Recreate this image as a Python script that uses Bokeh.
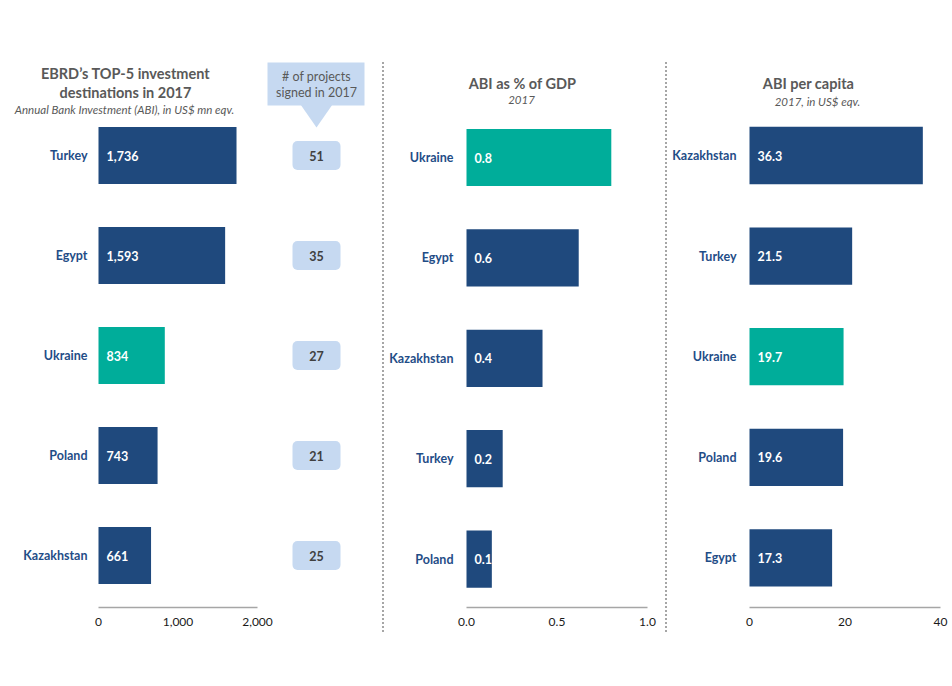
from bokeh.plotting import figure
from bokeh.layouts import row
from bokeh.models import Range1d, FixedTicker, NumeralTickFormatter, ColumnDataSource, Div
from bokeh.core.properties import value
from bokeh.embed import file_html
from bokeh.resources import INLINE

# ---------------- data ----------------
abi_countries = ["Turkey", "Egypt", "Ukraine", "Poland", "Kazakhstan"]
abi_values = [1736, 1593, 834, 743, 661]
projects_signed = [51, 35, 27, 21, 25]

gdp_countries = ["Ukraine", "Egypt", "Kazakhstan", "Turkey", "Poland"]
gdp_values = [0.80, 0.62, 0.42, 0.20, 0.14]

cap_countries = ["Kazakhstan", "Turkey", "Ukraine", "Poland", "Egypt"]
cap_values = [36.3, 21.5, 19.7, 19.6, 17.3]

abi_ticks = [0, 1000, 2000]
gdp_ticks = [0.0, 0.5, 1.0]
cap_ticks = [0, 20, 40]

highlight = "Ukraine"

# ---------------- style ----------------
FONT = value("Lato")
NAVY = "#1f497d"
LABEL_C = "#1f4d87"
TEAL = "#00ad9a"
BOX = "#c6d9f1"
TITLE_C = "#595959"
H = 686
AXIS_PX = 607


def make_panel(countries, values, labels, ticks, fmt, fig_left, fig_width,
               zero_px, max_px, first_row_px, row_px, gap):
    axis_px = AXIS_PX
    u = (ticks[-1] - ticks[0]) / (max_px - zero_px)
    xr = Range1d(-(zero_px - fig_left) * u, (fig_left + fig_width - zero_px) * u)
    yr = Range1d((axis_px - first_row_px) / row_px, -first_row_px / row_px)
    p = figure(width=fig_width, height=H, x_range=xr, y_range=yr,
               output_backend="svg", toolbar_location=None,
               y_axis_location=None, min_border=0,
               min_border_bottom=H - axis_px)
    p.extra_x_ranges = {"px": Range1d(fig_left, fig_left + fig_width)}
    p.extra_y_ranges = {"py": Range1d(axis_px, 0)}
    p.xgrid.visible = False
    p.ygrid.visible = False
    p.outline_line_color = None
    p.background_fill_color = "white"
    p.border_fill_color = "white"

    ax = p.xaxis[0]
    ax.ticker = FixedTicker(ticks=ticks)
    ax.bounds = (ticks[0], ticks[-1])
    ax.formatter = NumeralTickFormatter(format=fmt)
    ax.axis_line_color = "#a6a6a6"
    ax.axis_line_width = 1.5
    ax.major_tick_line_color = None
    ax.minor_tick_line_color = None
    ax.major_tick_out = 0
    ax.major_label_standoff = 10
    ax.major_label_text_font = "Lato"
    ax.major_label_text_font_size = "12px"
    ax.major_label_text_color = "#1a1a1a"

    src = ColumnDataSource(dict(
        y=list(range(len(countries))),
        v=values,
        name=countries,
        lab=labels,
        c=[TEAL if c == highlight else NAVY for c in countries],
    ))
    p.hbar(y="y", left=0, right="v", height=0.57, fill_color="c",
           line_color=None, source=src)
    p.text(x=0, y="y", text="lab", x_offset=8, text_align="left",
           text_baseline="middle", text_color="white", text_font=FONT,
           text_font_style="bold", text_font_size="12.5px", source=src)
    p.text(x=0, y="y", text="name", x_offset=-gap, text_align="right",
           text_baseline="middle", text_color=LABEL_C, text_font=FONT,
           text_font_style="bold", text_font_size="12.5px", source=src)
    return p, src


def titles(p, xs, ys, texts, size, style):
    p.text(x=xs, y=ys, text=texts, x_range_name="px", y_range_name="py",
           text_align="center", text_baseline="middle", text_color=TITLE_C,
           text_font=FONT, text_font_style=style, text_font_size=size)


# ---------------- panel 1: ABI ----------------
p1, src1 = make_panel(abi_countries, abi_values, [f"{v:,.0f}" for v in abi_values],
                      abi_ticks, "0,0", 0, 380, 98, 257, 155, 100, 11)
src1.data["proj"] = [str(n) for n in projects_signed]
titles(p1, [125, 125], [73, 92], ["EBRD\u2019s TOP-5 investment", "destinations in 2017"],
       "14.5px", "bold")
titles(p1, [124], [109], ["Annual Bank Investment (ABI), in US$ mn eqv."], "11.5px", "italic")

# callout "# of projects signed in 2017"
p1.quad(left=267, right=364, top=62, bottom=105, x_range_name="px", y_range_name="py",
        fill_color=BOX, line_color=None)
p1.patch(x=[300, 332, 316], y=[104, 104, 127], x_range_name="px", y_range_name="py",
         fill_color=BOX, line_color=None)
p1.text(x=[316, 316], y=[76, 92], text=["# of projects", "signed in 2017"],
        x_range_name="px", y_range_name="py", text_align="center",
        text_baseline="middle", text_color=TITLE_C, text_font=FONT,
        text_font_size="12.5px")
p1.hbar(y="y", left=292, right=340, height=0.29, x_range_name="px",
        fill_color=BOX, line_color=None, border_radius=5, source=src1)
p1.text(x=316, y="y", text="proj", x_range_name="px", text_align="center",
        text_baseline="middle", text_color="#404040", text_font=FONT,
        text_font_style="bold", text_font_size="12.5px", source=src1)

# ---------------- panel 2: ABI % GDP ----------------
p2, _ = make_panel(gdp_countries, gdp_values, [f"{v:.1f}" for v in gdp_values],
                   gdp_ticks, "0.0", 386, 277, 466, 647, 157, 100.4, 13)
titles(p2, [522], [83], ["ABI as % of GDP"], "14.5px", "bold")
titles(p2, [521], [99], ["2017"], "11.5px", "italic")

# ---------------- panel 3: ABI per capita ----------------
p3, _ = make_panel(cap_countries, cap_values, [f"{v:.1f}" for v in cap_values],
                   cap_ticks, "0", 669, 283, 749, 940, 155, 100.6, 13)
titles(p3, [808], [83], ["ABI per capita"], "14.5px", "bold")
titles(p3, [817], [101], ["2017, in US$ eqv."], "11.5px", "italic")


# ---------------- separators ----------------
def separator():
    return Div(width=6, height=H, margin=(0, 0, 0, 0),
               text='<div style="margin-left:2px;margin-top:62px;height:570px;'
                    'border-left:2px dotted #a6a6a6;"></div>')


layout = row(p1, separator(), p2, separator(), p3, spacing=0)

open("out.html", "w").write(file_html(layout, INLINE))
